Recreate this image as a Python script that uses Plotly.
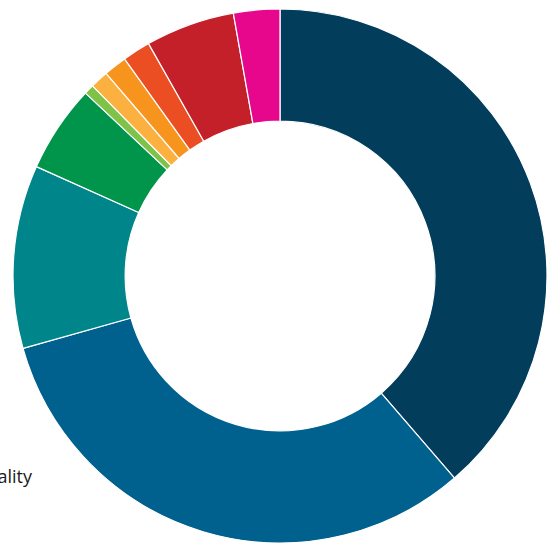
import plotly.graph_objects as go

# Share of each segment (percent), listed clockwise from 12 o'clock
segments = ["Segment 1", "Segment 2", "Segment 3", "Segment 4", "Segment 5",
            "Segment 6", "Segment 7", "Segment 8", "Segment 9", "Segment 10"]
shares = [38.7, 32.0, 11.1, 5.3, 0.6, 1.1, 1.4, 1.7, 5.4, 2.8]
colors = ["#023d5c", "#00618f", "#00868a", "#00954a", "#7fc24a",
          "#fbb040", "#f7941e", "#ec4e24", "#c4202a", "#e6078c"]

W, H = 547, 548

fig = go.Figure(
    go.Pie(
        labels=segments,
        values=shares,
        sort=False,
        direction="clockwise",
        rotation=0,
        hole=0.58,
        textinfo="none",
        marker=dict(colors=colors, line=dict(color="white", width=1.2)),
        domain=dict(x=[13 / W, 1.0], y=[(H - 545) / H, (H - 7) / H]),
        showlegend=False,
    )
)

# Legend-style label running off the left edge
fig.add_annotation(
    text="Gender Equality",
    xref="paper", yref="paper",
    x=35 / W, y=(H - 476) / H,
    xanchor="right", yanchor="middle",
    showarrow=False,
    font=dict(family="Open Sans", size=18, color="#1a1a1a"),
)

fig.update_layout(
    width=W, height=H,
    margin=dict(l=0, r=0, t=0, b=0),
    paper_bgcolor="white",
    plot_bgcolor="white",
)

fig.write_html("out.html")
